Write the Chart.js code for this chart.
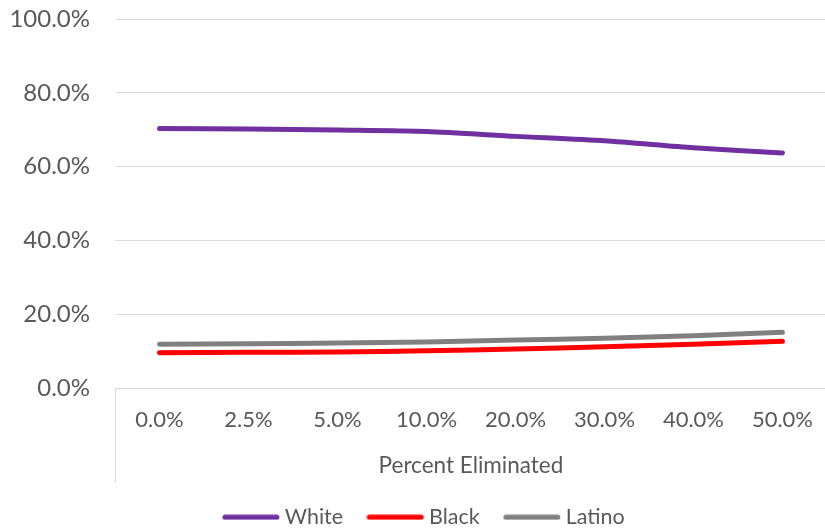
<!DOCTYPE html>
<html>
<head>
<meta charset="utf-8">
<script src="https://cdn.jsdelivr.net/npm/chart.js@4/dist/chart.umd.min.js"></script>
<style>
  html, body { margin: 0; padding: 0; background: #ffffff; overflow: hidden; }
  #wrap { position: relative; width: 832px; height: 538px; }
</style>
</head>
<body>
<div id="wrap"><canvas id="chart"></canvas></div>
<script>
// Share of each group remaining after a given percent is eliminated
const categories = ['0.0%', '2.5%', '5.0%', '10.0%', '20.0%', '30.0%', '40.0%', '50.0%'];
const white  = [70.3, 70.2, 69.9, 69.5, 68.2, 67.0, 65.1, 63.7];
const black  = [9.6, 9.7, 9.8, 10.1, 10.6, 11.2, 11.9, 12.7];
const latino = [11.9, 12.0, 12.2, 12.5, 13.0, 13.5, 14.2, 15.1];
const yTicks = [0, 20, 40, 60, 80, 100];

const TEXT = '#595959';
const GRID = '#D9D9D9';

// Legend geometry: swatch length, gap to its text, spacing between entries
const LEGEND_FONT = 21.5;
const SWATCH = 57;
const SWATCH_GAP = 5;
const ITEM_PAD = 24.5;
const LEAD = 25 - ITEM_PAD;                              // swatch overhang before the item box
const BOX_W = SWATCH - LEAD + SWATCH_GAP - LEGEND_FONT / 2;

// Thick round-capped line used as a legend swatch
function swatch(color) {
  const c = BOX_W / 2;
  const s = -LEAD, e = -LEAD + SWATCH;
  const half = Math.max(c - s, e - c);
  const cv = document.createElement('canvas');
  cv.width = Math.ceil(half * 2);
  cv.height = 6;
  const g = cv.getContext('2d');
  const x0 = s - (c - half);
  g.strokeStyle = color;
  g.lineWidth = 5;
  g.lineCap = 'round';
  g.beginPath();
  g.moveTo(x0 + 2.5, 3);
  g.lineTo(x0 + SWATCH - 2.5, 3);
  g.stroke();
  return cv;
}

// Vertical rule under the left end of the category axis
const axisEdge = {
  id: 'axisEdge',
  afterDraw(chart) {
    const { ctx, chartArea, scales } = chart;
    ctx.save();
    ctx.strokeStyle = GRID;
    ctx.lineWidth = 1;
    ctx.beginPath();
    const x = Math.round(chartArea.left) + 0.5;
    ctx.moveTo(x, chartArea.bottom);
    ctx.lineTo(x, scales.x.bottom);
    ctx.stroke();
    ctx.restore();
  }
};

// Nudge the legend row a little right of the canvas centre
const legendNudge = {
  id: 'legendNudge',
  afterLayout(chart) {
    const lg = chart.legend;
    if (lg) { lg.left += 8; lg.right += 8; }
  }
};

function series(label, data, color) {
  return {
    label, data,
    borderColor: color,
    backgroundColor: color,
    borderWidth: 5,
    borderCapStyle: 'round',
    borderJoinStyle: 'round',
    pointRadius: 0,
    pointHoverRadius: 0,
    tension: 0.25,
    fill: false
  };
}

new Chart(document.getElementById('chart'), {
  type: 'line',
  data: {
    labels: categories,
    datasets: [
      series('White', white, '#7030A0'),
      series('Black', black, '#FF0000'),
      series('Latino', latino, '#808080')
    ]
  },
  options: {
    responsive: true,
    maintainAspectRatio: false,
    animation: false,
    layout: { padding: { top: 19, left: 0, right: 0, bottom: 0 } },
    font: { family: 'Lato' },
    plugins: {
      tooltip: { enabled: false },
      legend: {
        position: 'bottom',
        labels: {
          color: TEXT,
          font: { family: 'Lato', size: LEGEND_FONT },
          usePointStyle: true,
          pointStyleWidth: BOX_W,
          padding: ITEM_PAD,
          generateLabels(chart) {
            return chart.data.datasets.map((ds, i) => ({
              text: ds.label,
              fillStyle: ds.borderColor,
              strokeStyle: ds.borderColor,
              lineWidth: 0,
              pointStyle: swatch(ds.borderColor),
              fontColor: TEXT,
              hidden: false,
              datasetIndex: i
            }));
          }
        }
      }
    },
    scales: {
      x: {
        offset: true,
        grid: { display: false, drawTicks: false },
        border: { display: false },
        ticks: {
          color: TEXT,
          font: { family: 'Lato', size: 22 },
          padding: 19,
          maxRotation: 0,
          autoSkip: false
        },
        title: {
          display: true,
          text: 'Percent Eliminated',
          color: TEXT,
          font: { family: 'Lato', size: 22.5 },
          padding: { top: 0, bottom: 2.5 }
        }
      },
      y: {
        min: 0,
        max: 100,
        afterBuildTicks(scale) {
          scale.ticks = yTicks.map(v => ({ value: v }));
        },
        afterFit(scale) {
          scale.width = 115;
          scale.paddingTop = 0;
          scale.paddingBottom = 0;
        },
        grid: { color: GRID, lineWidth: 1, drawTicks: false },
        border: { display: false },
        ticks: {
          color: TEXT,
          font: { family: 'Lato', size: 24 },
          padding: 25,
          callback: v => v.toFixed(1) + '%'
        }
      }
    }
  },
  plugins: [axisEdge, legendNudge]
});
</script>
</body>
</html>
